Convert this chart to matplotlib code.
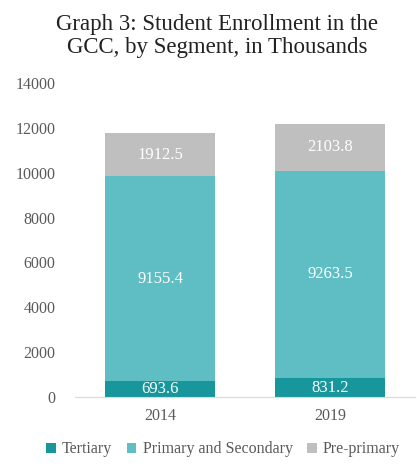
import matplotlib.pyplot as plt
import numpy as np

plt.rcParams['font.family'] = ['Liberation Serif', 'DejaVu Serif']

years = ['2014', '2019']
tertiary = [693.6, 831.2]
primary_secondary = [9155.4, 9263.5]
pre_primary = [1912.5, 2103.8]
series_names = ['Tertiary', 'Primary and Secondary', 'Pre-primary']
colors = ['#17979c', '#5fbec4', '#bfbfbf']

fig = plt.figure(figsize=(4.17, 4.67), dpi=100)
ax = fig.add_axes([0.18, 0.15, 0.815, 0.672])

x = np.arange(len(years))
width = 0.647
bottom = np.zeros(len(years))
for vals, name, col in zip([tertiary, primary_secondary, pre_primary], series_names, colors):
    vals = np.array(vals)
    ax.bar(x, vals, width, bottom=bottom, color=col, label=name)
    for xi, b, v in zip(x, bottom, vals):
        ax.text(xi, b + v / 2, f'{v:.1f}', ha='center', va='center',
                color='white', fontsize=12)
    bottom += vals

ax.set_xlim(-0.5, 1.5)
ax.set_ylim(0, 14000)
ax.set_yticks(np.arange(0, 14001, 2000))
ax.set_xticks(x)
ax.set_xticklabels(years)
ax.tick_params(length=0, colors='#595959', labelsize=11.5)
ax.tick_params(axis='y', pad=14)
ax.tick_params(axis='x', pad=8)
for s in ['top', 'right', 'left']:
    ax.spines[s].set_visible(False)
ax.spines['bottom'].set_color('#d9d9d9')

fig.suptitle('Graph 3: Student Enrollment in the\nGCC, by Segment, in Thousands',
             x=0.52, y=0.97, fontsize=16.5, color='#222222', linespacing=1.1)

fig.legend(loc='lower center', bbox_to_anchor=(0.535, -0.01), ncol=3, frameon=False,
           fontsize=11.5, handlelength=0.6, handleheight=0.6, handletextpad=0.4,
           columnspacing=0.9, labelcolor='#595959')

fig.savefig('out.png', dpi=100)
